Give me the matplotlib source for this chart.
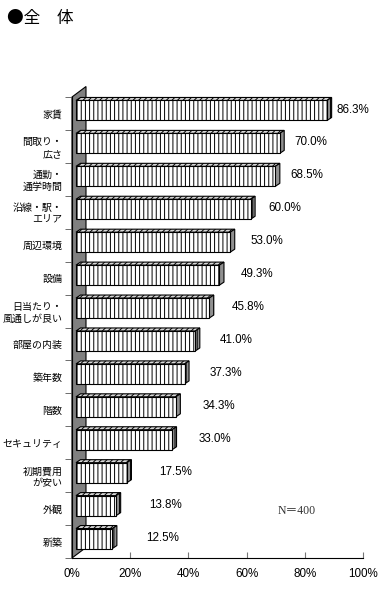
import matplotlib
matplotlib.use("Agg")
import matplotlib.pyplot as plt
from matplotlib.patches import Polygon

plt.rcParams['font.family'] = ['Liberation Sans', 'Noto Sans CJK JP']
plt.rcParams['hatch.linewidth'] = 0.7

# data
categories = ['家賃', '間取り・\n広さ', '通勤・\n通学時間', '沿線・駅・\nエリア', '周辺環境', '設備',
              '日当たり・\n風通しが良い', '部屋の内装', '築年数', '階数', 'セキュリティ',
              '初期費用\nが安い', '外観', '新築']
values = [86.3, 70.0, 68.5, 60.0, 53.0, 49.3, 45.8, 41.0, 37.3, 34.3, 33.0, 17.5, 13.8, 12.5]
xticks = [0, 20, 40, 60, 80, 100]
title = '●全　体'
sample_note = 'N＝400'

W, H = 386, 591
fig = plt.figure(figsize=(W / 100, H / 100), dpi=100)

# front plane of the fake 3-D plot area (pixels)
x0, x1, ytop, ybot = 72, 363, 97, 558
ax = fig.add_axes([x0 / W, 1 - ybot / H, (x1 - x0) / W, (ybot - ytop) / H])
n = len(categories)
ax.set_xlim(0, 100)
ax.set_ylim(n - 0.5, -0.5)

px = 100 / (x1 - x0)    # data units per pixel
py = n / (ybot - ytop)

# grey back wall
wdx, wdy = 14 * px, 10.5 * py
wall = Polygon([(0, -0.5), (wdx, -0.5 - wdy), (wdx, n - 0.5 - wdy), (0, n - 0.5)],
               closed=True, facecolor='#808080', edgecolor='black', lw=0.8,
               clip_on=False, zorder=1)
ax.add_patch(wall)

# bars: front face, top face, side face
fdx, fdy = 4 * px, 3 * py        # offset of bar front from the front plane
ddx, ddy = 4.5 * px, 3 * py      # bar depth
bh = 20 * py
for i, v in enumerate(values):
    left = fdx
    right = fdx + v
    top = i - fdy - bh / 2
    bot = i - fdy + bh / 2
    front = Polygon([(left, top), (right, top), (right, bot), (left, bot)],
                    facecolor='white', edgecolor='black', hatch='||||', lw=0.8,
                    clip_on=False, zorder=3)
    upper = Polygon([(left, top), (right, top), (right + ddx, top - ddy), (left + ddx, top - ddy)],
                    facecolor='#d8d8d8', edgecolor='black', hatch='//////', lw=0.8,
                    clip_on=False, zorder=3)
    side = Polygon([(right, top), (right + ddx, top - ddy), (right + ddx, bot - ddy), (right, bot)],
                   facecolor='#909090', edgecolor='black', hatch='|||', lw=0.8,
                   clip_on=False, zorder=3)
    for p in (upper, side, front):
        ax.add_patch(p)
    ax.text(14.4 + 0.885 * v, i - 0.12, f'{v:.1f}%', ha='left', va='center', fontsize=8.4)

for s in ('top', 'right'):
    ax.spines[s].set_visible(False)
ax.spines['left'].set_linewidth(0.8)
ax.spines['bottom'].set_linewidth(0.8)

ax.set_yticks(range(n), categories)
ax.set_yticks([i - 0.5 for i in range(n + 1)], minor=True)
ax.tick_params(axis='y', which='major', length=0, pad=7, labelsize=7.2)
for lab in ax.get_yticklabels():
    lab.set_multialignment('right')
ax.tick_params(axis='y', which='minor', length=5, direction='out', color='#555555')

ax.set_xticks(xticks, [f'{t}%' for t in xticks])
ax.tick_params(axis='x', direction='in', length=4, pad=7, labelsize=8.4, color='#777777')

ax.text(70.8, 12.07, sample_note, ha='left', va='center', fontsize=8.5,
        family=['Liberation Serif', 'Noto Sans CJK JP'], color='#333333')

fig.text(7 / W, 1 - 18 / H, title, ha='left', va='center', fontsize=12,
         family=['Noto Sans CJK JP', 'DejaVu Sans'])

fig.savefig('out.png', dpi=100)
